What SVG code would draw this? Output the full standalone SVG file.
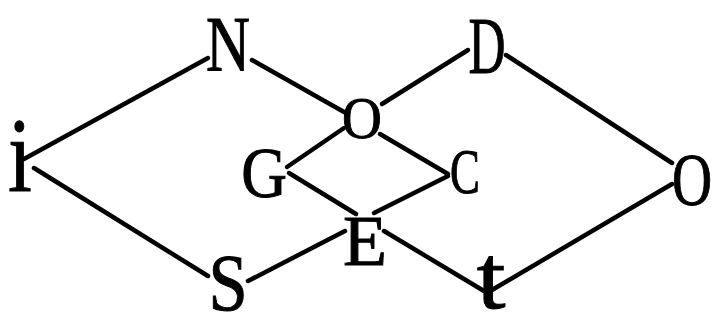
<svg xmlns="http://www.w3.org/2000/svg" width="722" height="328" viewBox="0 0 722 328">
<style>
.e{stroke:#000;stroke-width:4.5;stroke-linecap:round;fill:none}
.t{font-family:"Liberation Serif","Times New Roman",serif;fill:#000;stroke:#000;stroke-width:1;text-anchor:middle}
</style>
<rect width="722" height="328" fill="#fff"/>
<g id="connectors">
<line class="e" x1="24" y1="159" x2="208" y2="58"/>
<line class="e" x1="252" y1="60" x2="344" y2="112"/>
<line class="e" x1="380" y1="134" x2="448" y2="174"/>
<line class="e" x1="382" y1="104" x2="468" y2="50"/>
<line class="e" x1="344" y1="128" x2="287" y2="167"/>
<line class="e" x1="506" y1="55" x2="672" y2="163"/>
<line class="e" x1="672" y1="184" x2="492" y2="290"/>
<line class="e" x1="289" y1="173" x2="356" y2="214"/>
<line class="e" x1="384" y1="231" x2="484" y2="291"/>
<line class="e" x1="374" y1="213" x2="448" y2="176"/>
<line class="e" x1="248" y1="281" x2="345" y2="231"/>
<line class="e" x1="34" y1="168" x2="208" y2="276"/>
</g>
<g id="node-N"><text class="t" transform="translate(228 70) scale(0.78 1)" font-size="78">N</text></g>
<g id="node-D"><text class="t" transform="translate(487 73) scale(0.64 1)" font-size="80">D</text></g>
<g id="node-i"><text class="t" transform="translate(20 191) scale(0.81 1)" font-size="106">i</text></g>
<g id="node-O"><text class="t" transform="translate(362 138) scale(0.92 1)" font-size="60">O</text></g>
<g id="node-G"><text class="t" transform="translate(264 197) scale(0.88 1)" font-size="72">G</text></g>
<g id="node-C"><text class="t" transform="translate(465 193) scale(0.7 1)" font-size="64">C</text></g>
<g id="node-E"><text class="t" x="365" y="265" font-size="72">E</text></g>
<g id="node-S"><text class="t" transform="translate(228 310) scale(0.88 1)" font-size="80">S</text></g>
<g id="node-t"><text class="t" transform="translate(491 308) scale(1.15 1)" font-size="90">t</text></g>
<g id="node-O2"><text class="t" transform="translate(692 205) scale(0.75 1)" font-size="74">O</text></g>
</svg>
